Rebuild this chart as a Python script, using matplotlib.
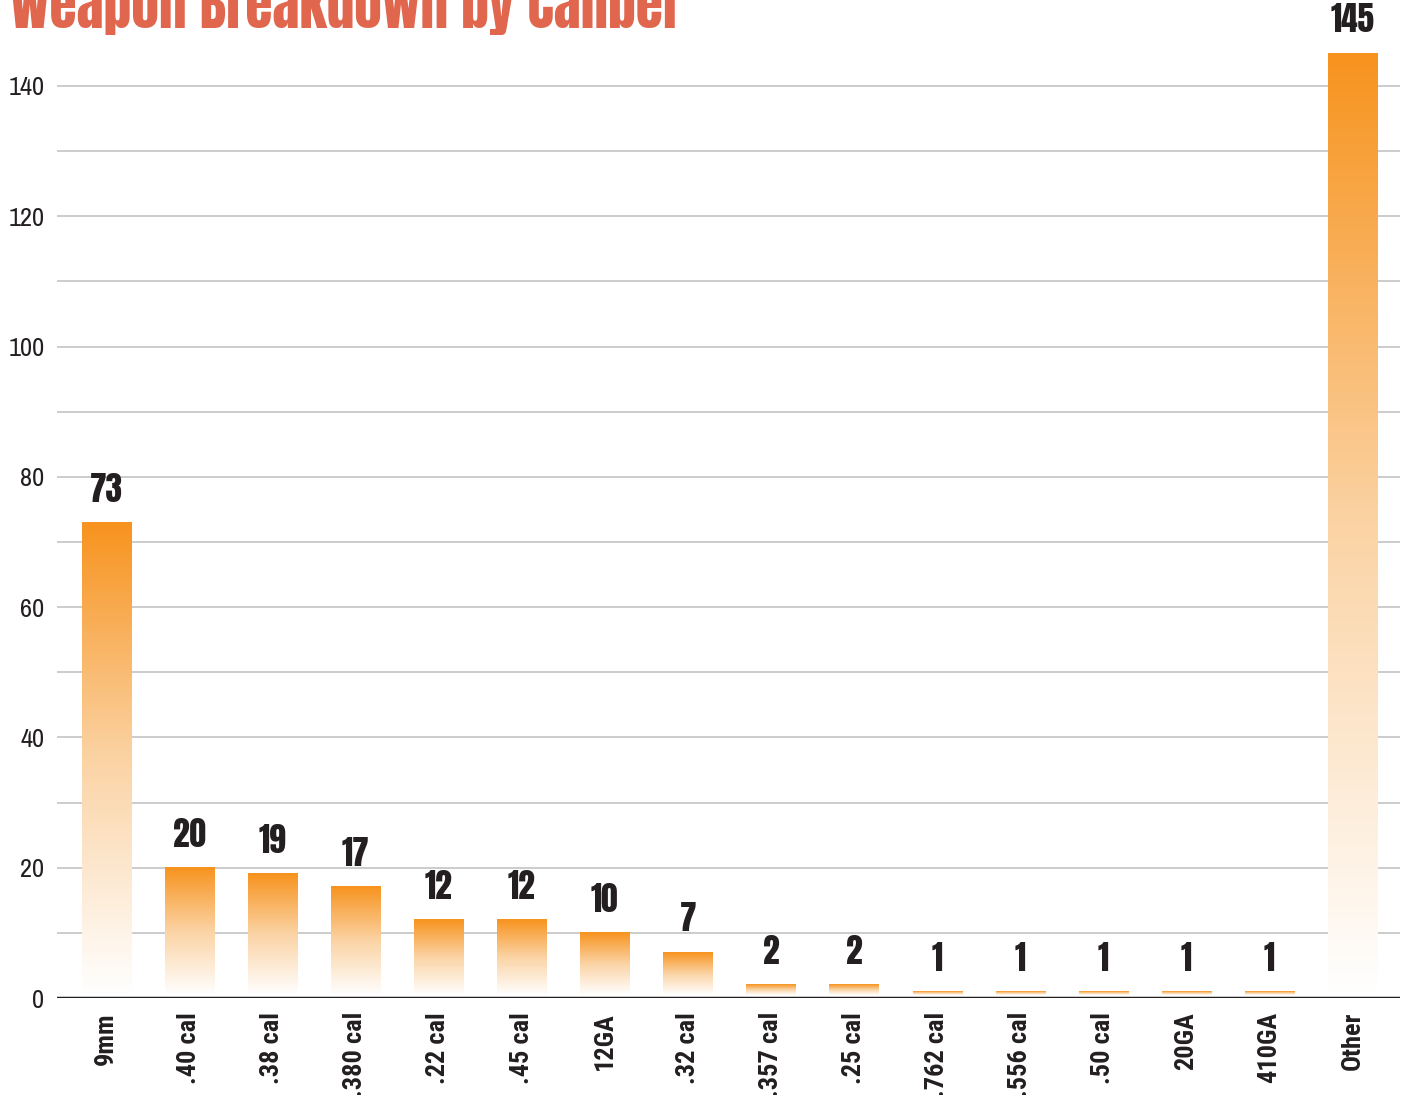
import numpy as np
import matplotlib.pyplot as plt
from matplotlib.colors import LinearSegmentedColormap

calibers = ["9mm", ".40 cal", ".38 cal", ".380 cal", ".22 cal", ".45 cal", "12GA",
            ".32 cal", ".357 cal", ".25 cal", ".762 cal", ".556 cal", ".50 cal",
            "20GA", "410GA", "Other"]
counts = [73, 20, 19, 17, 12, 12, 10, 7, 2, 2, 1, 1, 1, 1, 1, 145]

HEAVY = ["Anton", "DejaVu Sans"]
NARROW = ["Archivo Narrow", "DejaVu Sans"]
NARROW_BOLD = ["Roboto Condensed", "Archivo Narrow", "DejaVu Sans"]

fig = plt.figure(figsize=(14.1, 10.95), dpi=100)
ax = fig.add_axes([57 / 1410, 1 - 998 / 1095, 1343 / 1410, 998 / 1095])

cmap = LinearSegmentedColormap.from_list("fade", ["#ffffff", "#fbd3a4", "#f7931e"])
grad = np.linspace(0, 1, 256).reshape(-1, 1)
width = 0.59

for i, v in enumerate(counts):
    ax.imshow(grad, cmap=cmap, origin="lower", aspect="auto",
              extent=(i - width / 2, i + width / 2, 0.4, v), zorder=3)
    ax.text(i, v + 2.6, str(v), ha="center", va="bottom", fontsize=24,
            family=HEAVY, color="#231f20", zorder=4)

ax.set_xlim(-0.59, len(counts) - 1 + 0.57)
ax.set_ylim(0, 153.2)
for y in range(10, 150, 10):
    ax.axhline(y, color="#c8c8c8", lw=1.3, zorder=1)
ax.axhline(0, color="#231f20", lw=2.5, zorder=5)

ax.set_yticks(range(0, 141, 20))
ax.set_yticklabels([str(t) for t in range(0, 141, 20)], family=NARROW,
                   fontsize=19, color="#231f20")
ax.set_xticks(range(len(counts)))
ax.set_xticklabels(calibers, rotation=90, family=NARROW_BOLD, fontsize=19,
                   fontweight="bold", color="#231f20")
ax.tick_params(axis="x", length=0, pad=10)
ax.tick_params(axis="y", length=0, pad=9)
for s in ax.spines.values():
    s.set_visible(False)

fig.text(0.007, 1 - 28 / 1095, "Weapon Breakdown by Caliber", fontsize=40,
         family=HEAVY, color="#e0664e", va="baseline")

fig.savefig("out.png", dpi=100)
